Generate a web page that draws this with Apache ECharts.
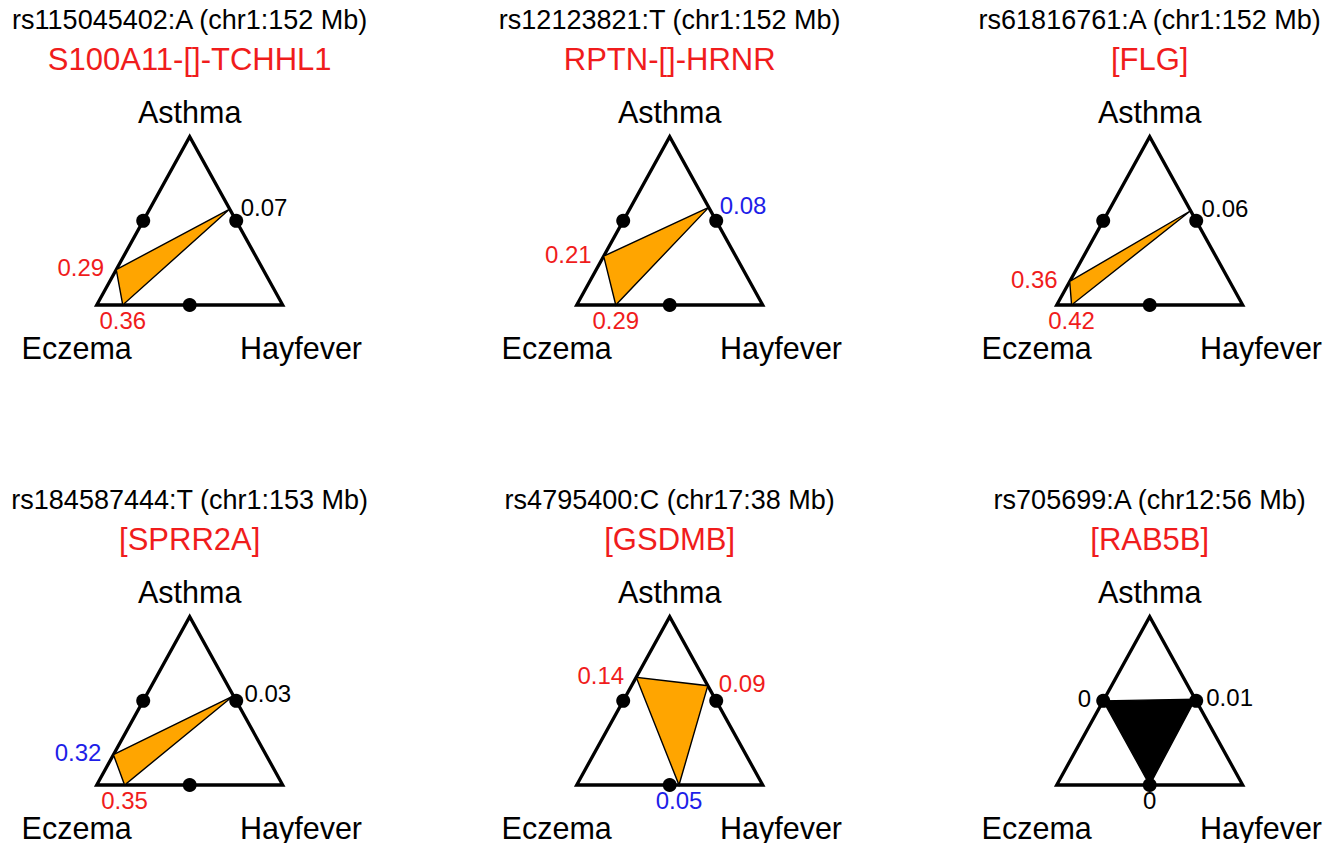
<!DOCTYPE html>
<html>
<head>
<meta charset="utf-8">
<script src="https://cdn.jsdelivr.net/npm/echarts@6/dist/echarts.min.js"></script>
<style>
html,body{margin:0;padding:0;background:#fff;}
#chart{width:1341px;height:843px;}
</style>
</head>
<body>
<div id="chart"></div>
<script>
// ---- data ----
const snpLabels = ['rs115045402:A (chr1:152 Mb)', 'rs12123821:T (chr1:152 Mb)', 'rs61816761:A (chr1:152 Mb)',
                   'rs184587444:T (chr1:153 Mb)', 'rs4795400:C (chr17:38 Mb)', 'rs705699:A (chr12:56 Mb)'];
const geneLabels = ['S100A11-[]-TCHHL1', 'RPTN-[]-HRNR', '[FLG]', '[SPRR2A]', '[GSDMB]', '[RAB5B]'];
const traitNames = ['Asthma', 'Eczema', 'Hayfever'];
// signed shift of each inner vertex from its side's midpoint
const asthmaEczemaShift   = [-0.29, -0.21, -0.36, -0.32, 0.14, 0];    // + toward Asthma
const eczemaHayfeverShift = [-0.36, -0.29, -0.42, -0.35, 0.05, 0];    // + toward Hayfever
const hayfeverAsthmaShift = [0.07, 0.08, 0.06, 0.03, 0.09, 0.01];     // + toward Asthma
const asthmaEczemaLabels   = ['0.29', '0.21', '0.36', '0.32', '0.14', '0'];
const eczemaHayfeverLabels = ['0.36', '0.29', '0.42', '0.35', '0.05', '0'];
const hayfeverAsthmaLabels = ['0.07', '0.08', '0.06', '0.03', '0.09', '0.01'];
const asthmaEczemaSig   = ['red', 'red', 'red', 'blue', 'red', 'none'];
const eczemaHayfeverSig = ['red', 'red', 'red', 'red', 'blue', 'none'];
const hayfeverAsthmaSig = ['none', 'blue', 'none', 'none', 'red', 'none'];
const innerFill = ['orange', 'orange', 'orange', 'orange', 'orange', 'black'];

// ---- styling / layout ----
const COLORS = { red: '#f01c1c', blue: '#1e1ee8', none: '#000000', orange: '#FFA500', black: '#000000' };
const FONT = '"Liberation Sans", Arial, sans-serif';
const W = 186, H = 168.3;
function origin(i) { return { x: 96.7 + 480 * (i % 3), y: 136.7 + 480 * Math.floor(i / 3) }; }

const outer = [[0, 0], [1, 0], [0.5, 1]];       // Eczema, Hayfever, Asthma
const mids = [[0.25, 0.5], [0.5, 0], [0.75, 0.5]];

const grids = [], xAxes = [], yAxes = [], series = [], graphics = [];

for (let i = 0; i < 6; i++) {
  const o = origin(i);
  grids.push({ left: o.x, top: o.y, width: W, height: H, containLabel: false });
  xAxes.push({ gridIndex: i, type: 'value', min: 0, max: 1, show: false });
  yAxes.push({ gridIndex: i, type: 'value', min: 0, max: 1, show: false });

  const t = 0.5 + asthmaEczemaShift[i];
  const u = 0.5 + eczemaHayfeverShift[i];
  const v = 0.5 + hayfeverAsthmaShift[i];
  const pL = [0.5 * t, t];
  const pB = [u, 0];
  const pR = [1 - 0.5 * v, v];

  // outer triangle
  series.push({
    type: 'custom', xAxisIndex: i, yAxisIndex: i, z: 2, silent: true,
    data: [0],
    renderItem: function (params, api) {
      return { type: 'polygon', shape: { points: outer.map(p => api.coord(p)) },
               style: { fill: 'none', stroke: '#000', lineWidth: 3.3, lineJoin: 'miter', miterLimit: 10 } };
    }
  });
  // inner polygon
  series.push({
    type: 'custom', xAxisIndex: i, yAxisIndex: i, z: 3, silent: true,
    data: [0],
    renderItem: function (params, api) {
      return { type: 'polygon', shape: { points: [pL, pB, pR].map(p => api.coord(p)) },
               style: { fill: COLORS[innerFill[i]], stroke: '#000', lineWidth: 1.4, lineJoin: 'miter' } };
    }
  });
  // midpoint dots
  series.push({
    type: 'scatter', xAxisIndex: i, yAxisIndex: i, z: 4, silent: true,
    symbol: 'circle', symbolSize: 14, itemStyle: { color: '#000', opacity: 1 },
    data: mids
  });
  // value labels
  const labs = [
    { p: pL, text: asthmaEczemaLabels[i], color: COLORS[asthmaEczemaSig[i]], dx: -12, dy: -2, align: 'right' },
    { p: pB, text: eczemaHayfeverLabels[i], color: COLORS[eczemaHayfeverSig[i]], dx: 0, dy: 15.5, align: 'center' },
    { p: pR, text: hayfeverAsthmaLabels[i], color: COLORS[hayfeverAsthmaSig[i]], dx: 11, dy: -2, align: 'left' }
  ];
  series.push({
    type: 'custom', xAxisIndex: i, yAxisIndex: i, z: 5, silent: true,
    data: labs.map((l, k) => k),
    renderItem: function (params, api) {
      const l = labs[params.dataIndex];
      const c = api.coord(l.p);
      return { type: 'text', x: c[0] + l.dx, y: c[1] + l.dy,
               style: { text: l.text, fill: l.color, font: '24px ' + FONT, align: l.align, verticalAlign: 'middle' } };
    }
  });

  const cx = o.x + W / 2;
  graphics.push({ type: 'text', x: cx, y: o.y - 117,
    style: { text: snpLabels[i], fill: '#000', font: '27px ' + FONT, align: 'center', verticalAlign: 'middle' } });
  graphics.push({ type: 'text', x: cx, y: o.y - 77.5,
    style: { text: geneLabels[i], fill: COLORS.red, font: '31px ' + FONT, align: 'center', verticalAlign: 'middle' } });
  graphics.push({ type: 'text', x: cx, y: o.y - 25,
    style: { text: traitNames[0], fill: '#000', font: '30.5px ' + FONT, align: 'center', verticalAlign: 'middle' } });
  graphics.push({ type: 'text', x: o.x - 20, y: o.y + H + 42.5,
    style: { text: traitNames[1], fill: '#000', font: '30.5px ' + FONT, align: 'center', verticalAlign: 'middle' } });
  graphics.push({ type: 'text', x: o.x + W + 18.3, y: o.y + H + 42.5,
    style: { text: traitNames[2], fill: '#000', font: '30.5px ' + FONT, align: 'center', verticalAlign: 'middle' } });
}

const chart = echarts.init(document.getElementById('chart'), null, { renderer: 'svg' });
chart.setOption({
  backgroundColor: '#fff',
  animation: false,
  grid: grids,
  xAxis: xAxes,
  yAxis: yAxes,
  series: series,
  graphic: { elements: graphics }
});
</script>
</body>
</html>
